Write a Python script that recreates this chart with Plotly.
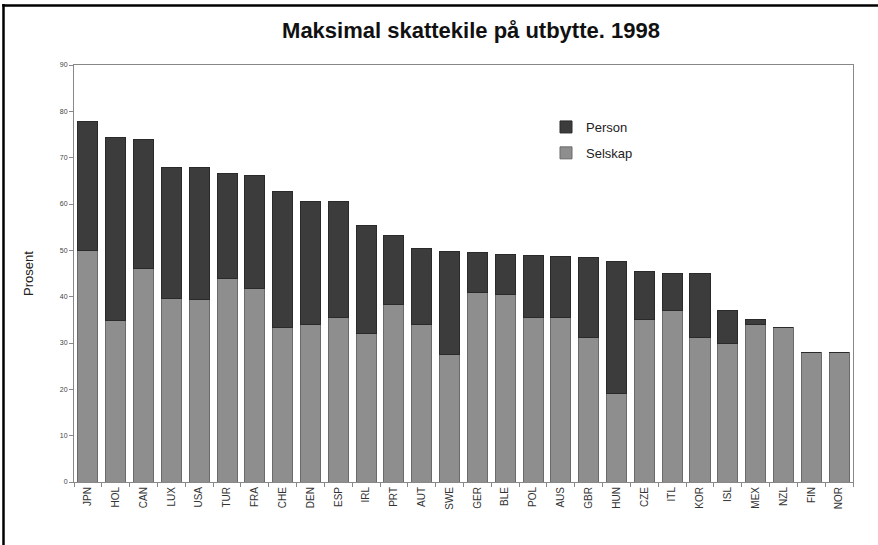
import plotly.graph_objects as go

categories = ["JPN", "HOL", "CAN", "LUX", "USA", "TUR", "FRA", "CHE", "DEN", "ESP",
              "IRL", "PRT", "AUT", "SWE", "GER", "BLE", "POL", "AUS", "GBR", "HUN",
              "CZE", "ITL", "KOR", "ISL", "MEX", "NZL", "FIN", "NOR"]
selskap = [50.0, 34.8, 46.0, 39.7, 39.3, 44.0, 41.7, 33.3, 33.9, 35.6,
           32.0, 38.4, 33.9, 27.6, 40.8, 40.4, 35.6, 35.6, 31.1, 19.2,
           35.0, 37.0, 31.1, 30.0, 34.0, 33.3, 28.0, 28.0]
person = [27.7, 39.5, 27.9, 28.1, 28.5, 22.5, 24.4, 29.3, 26.6, 24.9,
          23.3, 14.7, 16.6, 22.1, 8.7, 8.8, 13.2, 13.0, 17.3, 28.3,
          10.4, 8.1, 14.0, 7.1, 1.0, 0.0, 0.0, 0.0]
y_ticks = [0, 10, 20, 30, 40, 50, 60, 70, 80, 90]

font = "Liberation Sans, Arial, sans-serif"

fig = go.Figure()
fig.add_trace(go.Bar(x=categories, y=selskap, name="Selskap", legendgroup="s",
                     legendrank=2,
                     marker=dict(color="#8e8e8e", line=dict(color="#6a6a6a", width=1))))
fig.add_trace(go.Bar(x=categories, y=person, name="Person", legendgroup="p",
                     legendrank=1,
                     marker=dict(color="#3c3c3c", line=dict(color="#2a2a2a", width=1))))

W, H = 878, 545
l, r, t, b = 74, 25, 65, 63
pw, ph = W - l - r, H - t - b

def px_x(x):
    return (x - l) / pw

def px_y(y):
    return (H - b - y) / ph

fig.update_layout(
    width=W, height=H,
    barmode="stack", bargap=0.28,
    paper_bgcolor="white", plot_bgcolor="white",
    margin=dict(l=l, r=r, t=t, b=b),
    font=dict(family=font, color="#222222"),
    title=dict(text="<b>Maksimal skattekile på utbytte. 1998</b>",
               xref="container", yref="container",
               x=471 / W, xanchor="center", y=1 - 30 / H, yanchor="middle",
               font=dict(size=22, family=font, color="#111111")),
    showlegend=True,
    legend=dict(x=px_x(546), y=px_y(112), xanchor="left", yanchor="top",
                traceorder="grouped", bgcolor="rgba(0,0,0,0)",
                font=dict(size=13, family=font, color="#222222"), itemwidth=30,
                tracegroupgap=6),
    xaxis=dict(showline=True, linecolor="#888888", linewidth=1, mirror=True,
               ticks="outside", tickson="boundaries", ticklen=4, tickcolor="#888888",
               tickangle=-90, tickfont=dict(size=10, family=font, color="#333333"),
               showgrid=False),
    yaxis=dict(range=[0, 90], tickvals=y_ticks, showline=True, linecolor="#888888",
               linewidth=1, mirror=True, ticks="outside", ticklen=4, tickcolor="#888888",
               tickfont=dict(size=7, family=font, color="#444444"),
               showgrid=False, zeroline=False,
               title=dict(text="Prosent", font=dict(size=13, family=font, color="#222222"),
                          standoff=23)),
    shapes=[
        dict(type="line", xref="paper", yref="paper",
             x0=px_x(3.5), x1=px_x(3.5), y0=px_y(H), y1=px_y(4),
             line=dict(color="black", width=2.5)),
        dict(type="line", xref="paper", yref="paper",
             x0=px_x(2.3), x1=px_x(W), y0=px_y(5.5), y1=px_y(5.5),
             line=dict(color="black", width=2.5)),
    ],
)

fig.write_html("out.html", config={"displayModeBar": False},
               post_script="document.body.style.margin='0';")
